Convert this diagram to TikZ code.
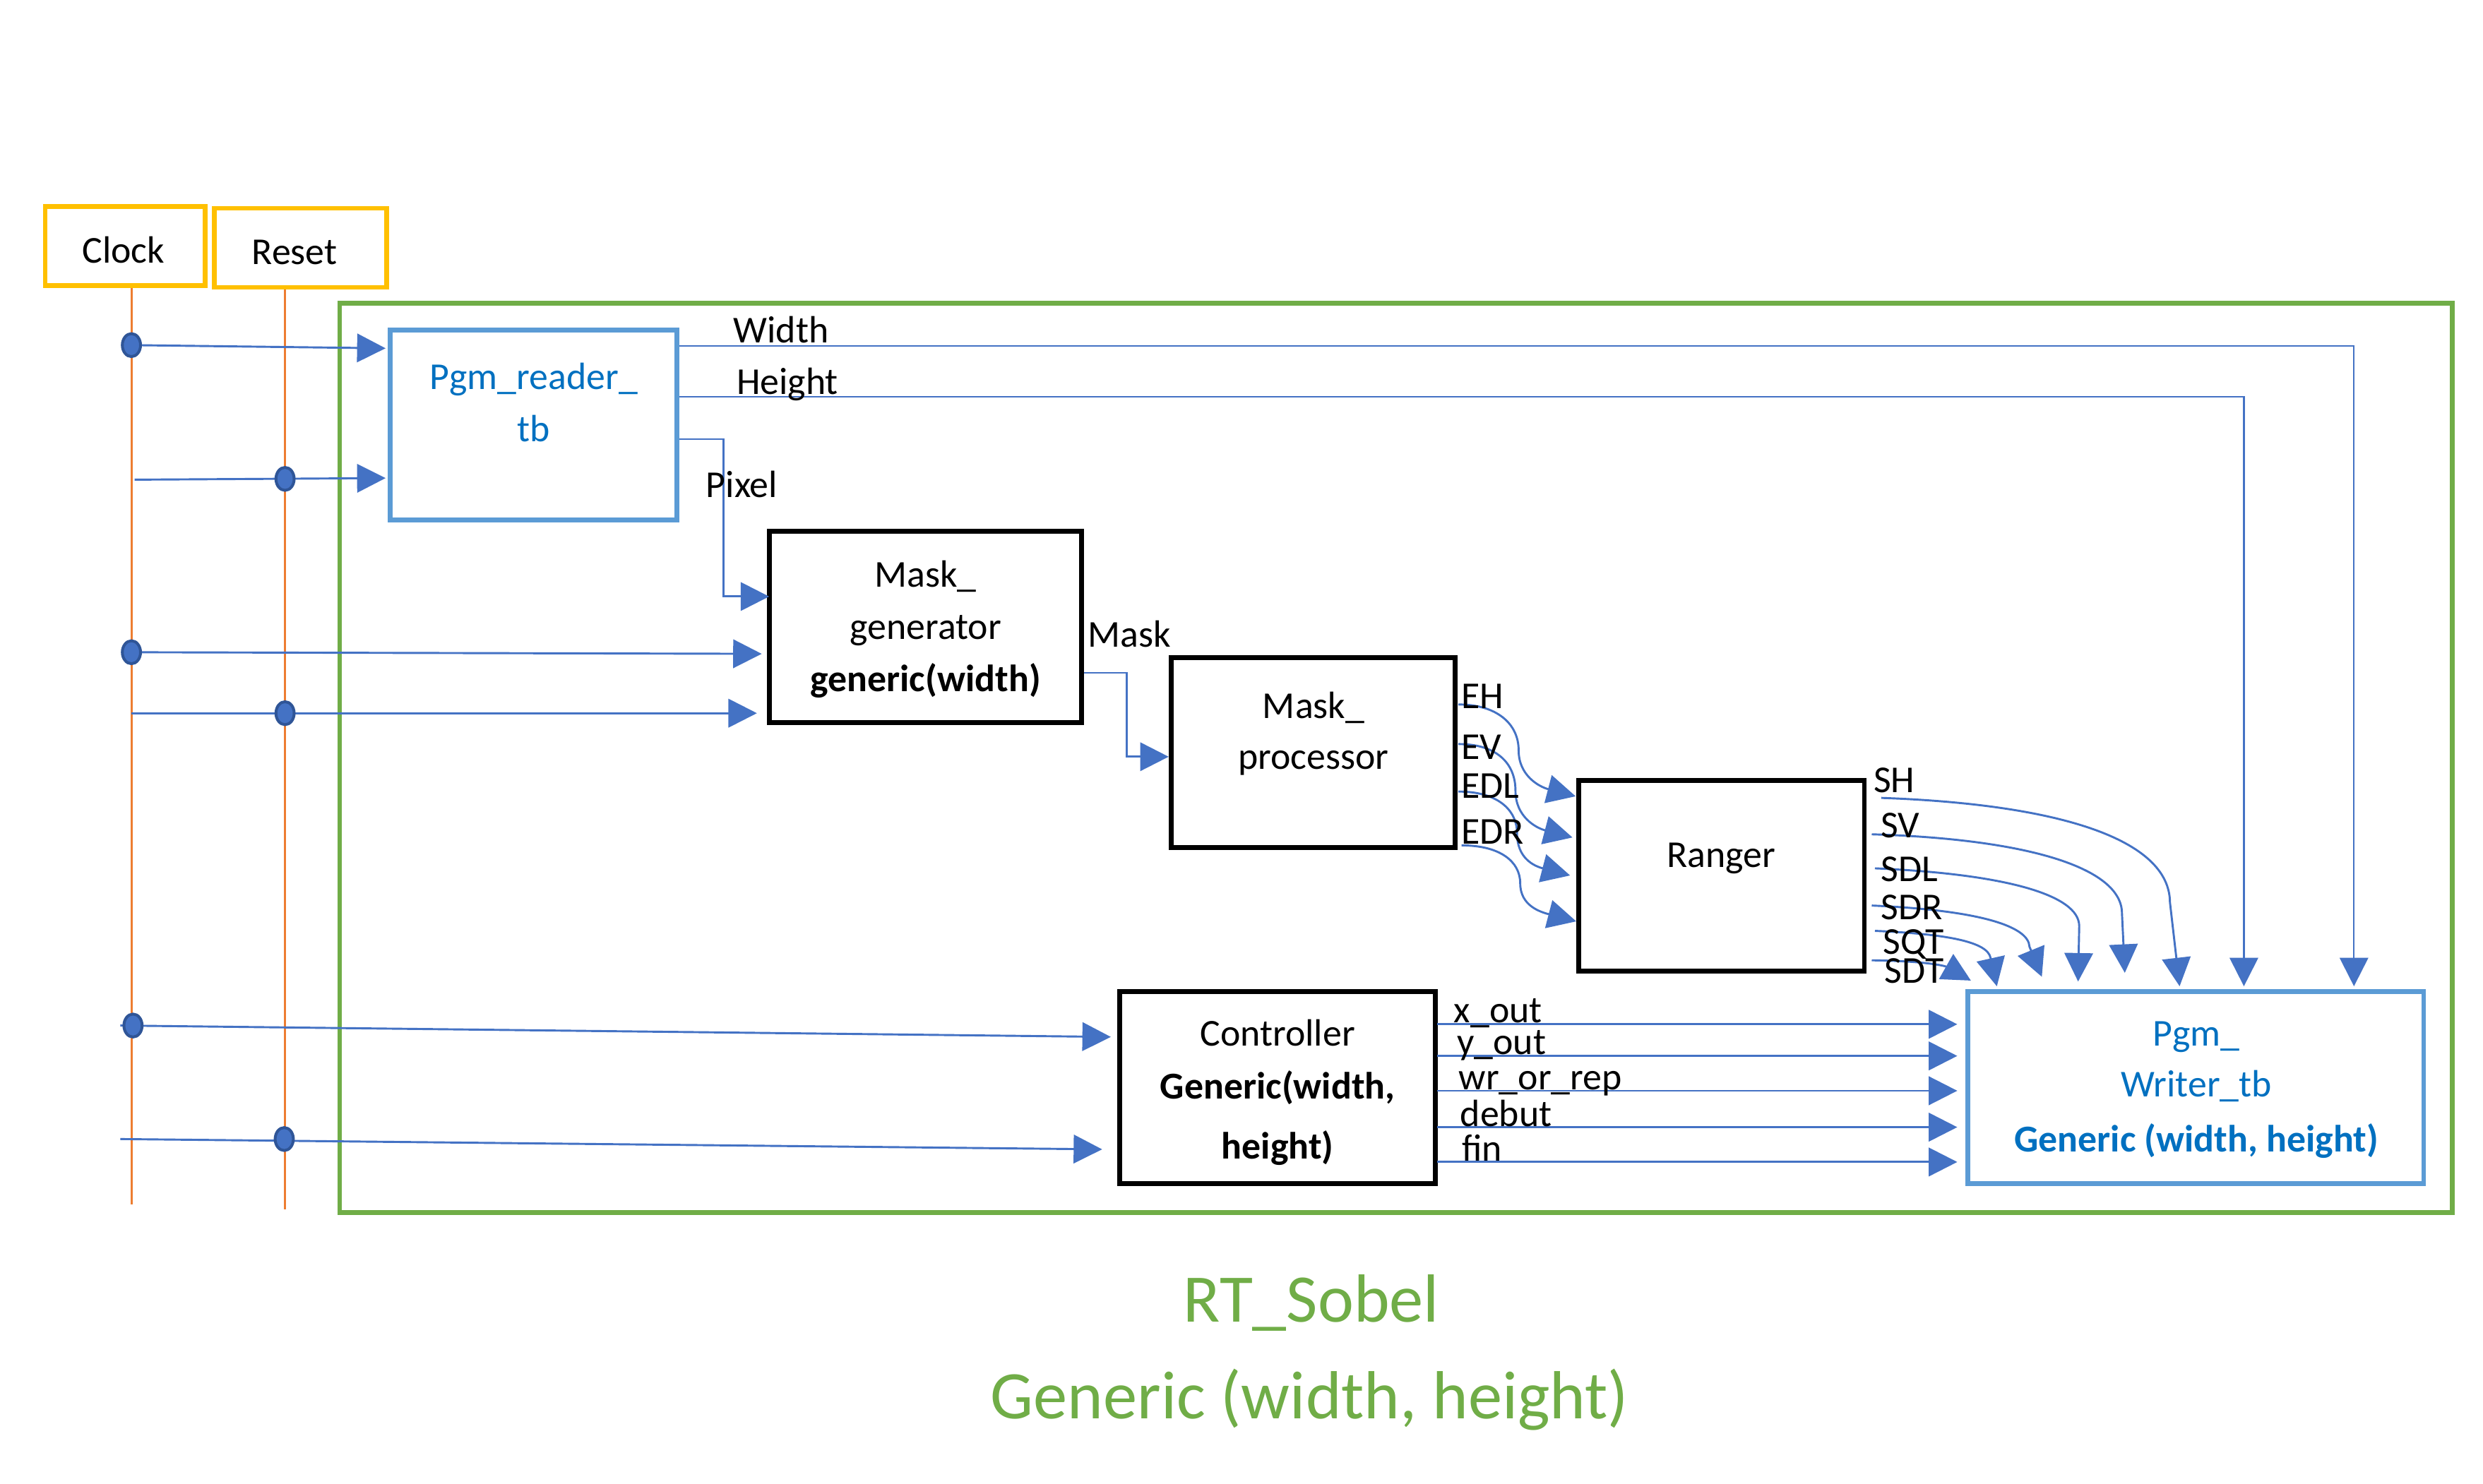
\documentclass[tikz,border=0pt]{standalone}
\usepackage{fontspec}
\setmainfont{Carlito}
\usetikzlibrary{arrows.meta,shapes.geometric}
\definecolor{conblue}{HTML}{4472C4}
\definecolor{dotedge}{HTML}{2F5597}
\definecolor{boxblue}{HTML}{5B9BD5}
\definecolor{txtblue}{HTML}{0070C0}
\definecolor{grn}{HTML}{70AD47}
\definecolor{yel}{HTML}{FFC000}
\definecolor{org}{HTML}{ED7D31}
\pgfdeclarelayer{fg}
\pgfsetlayers{main,fg}
\tikzset{
  blkbox/.style={draw=black, line width=3pt, rectangle, inner sep=0pt},
  bluebox/.style={draw=boxblue, line width=3pt, rectangle, inner sep=0pt},
  yelbox/.style={draw=yel, line width=3pt, rectangle, inner sep=0pt},
  txt/.style={font=\fontsize{24}{33}\selectfont, inner sep=0pt, anchor=base},
  lbl/.style={font=\fontsize{24}{33}\selectfont, inner sep=0pt, anchor=base west},
  conn/.style={draw=conblue, line width=1.3pt, -{Triangle[length=18pt,width=18pt]}},
  thinconn/.style={conn, line width=1pt},
  sigdot/.style={ellipse, fill=conblue, draw=dotedge, line width=1.8pt, minimum width=11.5pt, minimum height=14.5pt, inner sep=0pt},
  wire/.style={draw=org, line width=1.3pt},
  ttl/.style={font=\fontsize{43}{50}\selectfont, text=grn, inner sep=0pt, anchor=base}
}
\begin{document}
\begin{tikzpicture}[x=1pt,y=-1pt]
\useasboundingbox (0,0) rectangle (1568,937);
% ---------- boxes ----------
\node[yelbox, minimum width=101pt, minimum height=50pt] (clk) at (79,155.5) {};
\node[txt] (clkt) at (78,166) {Clock};
\node[yelbox, minimum width=108.6pt, minimum height=50pt] (rst) at (189.8,156.5) {};
\node[txt] (rstt) at (186,167) {Reset};
\node[draw=grn, line width=3pt, inner sep=0pt, minimum width=1334pt, minimum height=574.5pt] (rt) at (881.5,478.75) {};

\node[bluebox, minimum width=181pt, minimum height=120pt] (pr) at (337,268.5) {};
\node[txt, text=txtblue] (prt1) at (337,246) {Pgm\_reader\_};
\node[txt, text=txtblue] (prt2) at (337,279) {tb};

\node[blkbox, minimum width=197pt, minimum height=121pt] (mg) at (584.5,396) {};
\node[txt] (mgt1) at (584.5,370.6) {Mask\_};
\node[txt] (mgt2) at (584.5,403.6) {generator};
\node[txt, font=\fontsize{24}{33}\selectfont\bfseries] (mgt3) at (584.5,436.6) {generic(width)};

\node[blkbox, minimum width=179.5pt, minimum height=120pt] (mp) at (829.25,475.5) {};
\node[txt] (mpt1) at (829.5,453.6) {Mask\_};
\node[txt] (mpt2) at (829.5,486) {processor};

\node[blkbox, minimum width=180.4pt, minimum height=120.5pt] (rg) at (1087.1,553.25) {};
\node[txt] (rgt) at (1087,547.7) {Ranger};

\node[blkbox, minimum width=199.4pt, minimum height=121pt] (ctl) at (806.8,687) {};
\node[txt] (ctlt1) at (806.8,660.7) {Controller};
\node[txt, font=\fontsize{24}{33}\selectfont\bfseries] (ctlt2) at (806.8,694) {Generic(width,};
\node[txt, font=\fontsize{24}{33}\selectfont\bfseries] (ctlt3) at (806.8,732) {height)};

\node[bluebox, minimum width=288pt, minimum height=121pt] (pw) at (1386.5,687) {};
\node[txt, text=txtblue] (pwt1) at (1387,660.5) {Pgm\_};
\node[txt, text=txtblue] (pwt2) at (1387,693) {Writer\_tb};
\node[txt, text=txtblue, font=\fontsize{24}{33}\selectfont\bfseries] (pwt3) at (1387,727.4) {Generic (width, height)};

% ---------- clock / reset wires ----------
\coordinate (clkbot) at (83,761);
\coordinate (rstbot) at (180,764);
\draw[wire] (clk.south -| clkbot) -- (clkbot);
\draw[wire] (rst.south -| rstbot) -- (rstbot);

\begin{pgfonlayer}{fg}
\node[sigdot] (d1) at (83,218) {};
\node[sigdot] (d2) at (180,302.5) {};
\node[sigdot] (d3) at (83,412) {};
\node[sigdot] (d4) at (180,450.5) {};
\node[sigdot] (d5) at (84,647.8) {};
\node[sigdot] (d6) at (179.5,719.5) {};
\end{pgfonlayer}

\coordinate (s2) at (85,303);
\coordinate (s4) at (83,450.5);
\coordinate (s5) at (76,647.8);
\coordinate (s6) at (76,719.5);
\coordinate (pr-clk) at (243.5,220);
\coordinate (pr-rst) at (243.5,302);
\coordinate (mg-clk) at (481,413);
\coordinate (mg-rst) at (478,450.5);
\coordinate (ctl-clk) at (701.5,655);
\coordinate (ctl-rst) at (696,726);
\draw[conn] (d1.center) -- (pr-clk);
\draw[conn] (s2) -- (pr-rst);
\draw[conn] (d3.center) -- (mg-clk);
\draw[conn] (s4) -- (mg-rst);
\draw[conn] (s5) -- (ctl-clk);
\draw[conn] (s6) -- (ctl-rst);

% ---------- data paths ----------
\coordinate (pr-w) at (429,218.6);
\coordinate (pw-w) at (1486.5,623);
\coordinate (pr-h) at (429,250.7);
\coordinate (pw-h) at (1417,623);
\draw[thinconn] (pr-w) -- (1486.5,218.6) -- (pw-w);
\draw[thinconn] (pr-h) -- (1417,250.7) -- (pw-h);
\node[lbl] (lw) at (463,216.6) {Width};
\node[lbl] (lh) at (465,249) {Height};

\coordinate (pr-pix) at (429,277.4);
\coordinate (mg-pix) at (485.7,376.8);
\draw[conn] (pr-pix) -- (457,277.4) -- (457,376.8) -- (mg-pix);
\node[lbl] (lpix) at (445.7,314) {Pixel};

\coordinate (mg-out) at (684.6,425);
\coordinate (mp-in) at (738,478);
\draw[conn] (mg-out) -- (711.4,425) -- (711.4,478) -- (mp-in);
\node[lbl] (lmask) at (686.8,408.6) {Mask};

% E signals
\coordinate (mp-eh) at (921,445);  \coordinate (rg-eh) at (995,503);
\coordinate (mp-ev) at (921,470);  \coordinate (rg-ev) at (993,529);
\coordinate (mp-edl) at (921,500); \coordinate (rg-edl) at (991.5,553);
\coordinate (mp-edr) at (923,534); \coordinate (rg-edr) at (995.4,582);
\draw[conn] (mp-eh) .. controls (945,445) and (959,457) .. (959,474) .. controls (959,490) and (972,497) .. (rg-eh);
\draw[conn] (mp-ev) .. controls (945,470) and (957,482) .. (957,499.5) .. controls (957,516) and (970,523) .. (rg-ev);
\draw[conn] (mp-edl) .. controls (945,500) and (958,511) .. (958,526.5) .. controls (958,542) and (968.5,547) .. (rg-edl);
\draw[conn] (mp-edr) .. controls (947,534) and (960,544) .. (960,558) .. controls (960,572) and (972.4,576) .. (rg-edr);
\node[lbl] (leh) at (922.5,447.5) {EH};
\node[lbl] (lev) at (922.5,479.5) {EV};
\node[lbl] (ledl) at (922.5,504) {EDL};
\node[lbl] (ledr) at (922.5,533) {EDR};

% S signals
\coordinate (rg-sh) at (1188,504);    \coordinate (pw-sh) at (1376.4,623);
\coordinate (rg-sv) at (1182,527);    \coordinate (pw-sv) at (1341.8,614.5);
\coordinate (rg-sdl) at (1184,548.5); \coordinate (pw-sdl) at (1312.3,620);
\coordinate (rg-sdr) at (1182,572);   \coordinate (pw-sdr) at (1289.4,617);
\coordinate (rg-sqt) at (1184,588);   \coordinate (pw-sqt) at (1261,623);
\coordinate (rg-sdt) at (1182,606.6); \coordinate (pw-sdt) at (1244.6,619.4);
\draw[conn] (rg-sh) .. controls (1300,508) and (1370,530) .. (1370.3,570) -- (pw-sh);
\draw[conn] (rg-sv) .. controls (1280,530) and (1340,548) .. (1340,577) -- (pw-sv);
\draw[conn] (rg-sdl) .. controls (1265,552) and (1313,565) .. (1313,585) -- (pw-sdl);
\draw[conn] (rg-sdr) .. controls (1250,575) and (1281,585) .. (1281.6,598) -- (pw-sdr);
\draw[conn] (rg-sqt) .. controls (1230,590) and (1255,595) .. (1257,605) -- (pw-sqt);
\draw[conn] (rg-sdt) .. controls (1215,607) and (1228,610) .. (pw-sdt);
\node[lbl] (lsh) at (1183,500.4) {SH};
\node[lbl] (lsv) at (1187.6,529) {SV};
\node[lbl] (lsdl) at (1187.6,556.6) {SDL};
\node[lbl] (lsdr) at (1187.6,580.7) {SDR};
\node[lbl] (lsqt) at (1189,602.5) {SQT};
\node[lbl] (lsdt) at (1190,621) {SDT};

% controller outputs
\foreach \yy/\nm in {647/xo,667/yo,689/wr,712/db,734/fn}{
  \coordinate (ctl-\nm) at (907.5,\yy);
  \coordinate (pw-\nm) at (1236,\yy);
  \draw[conn] (ctl-\nm) -- (pw-\nm);
}
\node[lbl] (lxo) at (918,646) {x\_out};
\node[lbl] (lyo) at (920,666) {y\_out};
\node[lbl] (lwr) at (921,688.5) {wr\_or\_rep};
\node[lbl] (ldb) at (922,711.5) {debut};
\node[lbl] (lfn) at (923,733.5) {fin};

% title
\node[ttl] (t1) at (828,835) {RT\_Sobel};
\node[ttl] (t2) at (827,896) {Generic (width, height)};
\end{tikzpicture}
\end{document}
